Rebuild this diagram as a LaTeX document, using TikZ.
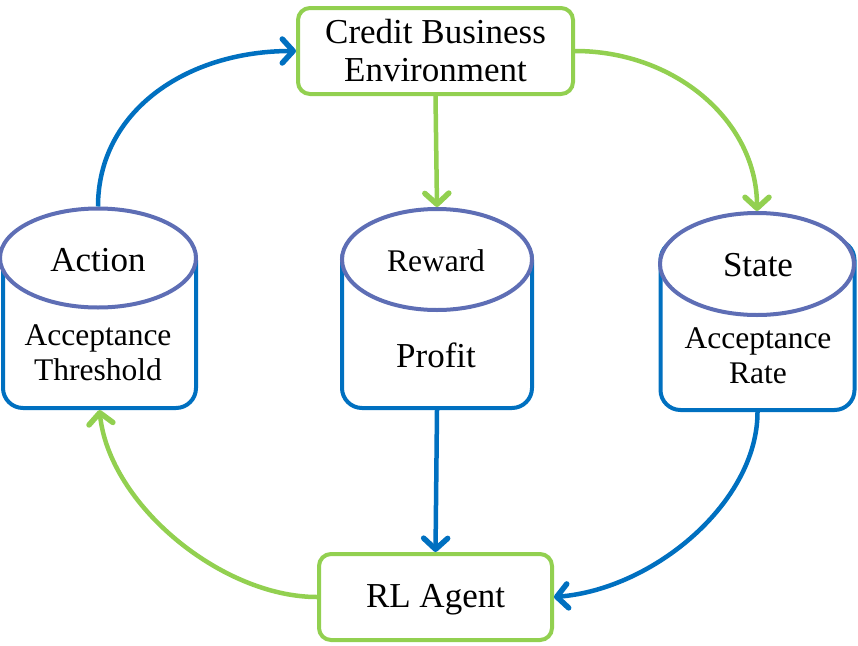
\documentclass[tikz,border=0pt]{standalone}
\usepackage{fontspec}
\setmainfont{Liberation Serif}
\usetikzlibrary{arrows.meta,shapes.geometric}
\definecolor{grn}{HTML}{92D050}
\definecolor{blu}{HTML}{0070C0}
\definecolor{ell}{HTML}{5E6EB5}
\begin{document}
\begin{tikzpicture}[x=1pt,y=-1pt,
  bigtext/.style={font=\fontsize{35}{38}\selectfont},
  smalltext/.style={font=\fontsize{31.5}{35}\selectfont},
  gbox/.style={draw=grn, line width=4pt, rounded corners=12pt, fill=white, align=center, bigtext, inner sep=0pt},
  cylbody/.style={draw=blu, line width=4pt, rounded corners=20pt, fill=white, inner sep=0pt},
  cyltop/.style={ellipse, draw=ell, line width=4pt, fill=white, inner sep=0pt},
  lbl/.style={align=center, inner sep=0pt},
  tip/.style={-{Straight Barb[length=11pt,width=24pt,line width=5.5pt,round]}},
  garr/.style={draw=grn, line width=4.5pt, tip},
  barr/.style={draw=blu, line width=4.5pt, tip}]
\useasboundingbox (0,0) rectangle (858,645);
% boxes
\node[gbox, minimum width=275pt, minimum height=86pt] (env) at (435.5,51) {Credit Business\\Environment};
\node[gbox, minimum width=233pt, minimum height=86pt] (agent) at (435.5,597) {};
\node[lbl, bigtext] (agentl) at (435.5,600) {RL Agent};
% action cylinder
\node[cylbody, minimum width=193pt, minimum height=168pt] (actb) at (99.5,324) {};
\node[cyltop, minimum width=196pt, minimum height=99pt] (act) at (98,258) {};
\node[lbl, bigtext] (actl) at (98,260) {Action};
\node[lbl, smalltext] (actt) at (98,353) {Acceptance\\Threshold};
% reward cylinder
\node[cylbody, minimum width=190pt, minimum height=168pt] (rewb) at (437,324) {};
\node[cyltop, minimum width=190pt, minimum height=101pt] (rew) at (437,259.5) {};
\node[lbl, smalltext] (rewl) at (436,261) {Reward};
\node[lbl, bigtext] (rewt) at (436,355) {Profit};
% state cylinder
\node[cylbody, minimum width=194pt, minimum height=170pt] (stb) at (757.5,325) {};
\node[cyltop, minimum width=194pt, minimum height=102pt] (st) at (757,264) {};
\node[lbl, bigtext] (stl) at (758,265) {State};
\node[lbl, smalltext] (stt) at (758,356) {Acceptance\\Rate};
% connectors
\draw[barr] (act.north) .. controls +(0,-95) and +(-110,0) .. (env.west);
\draw[garr] (env.east) .. controls +(100,0) and +(0,-90) .. (st.north);
\draw[garr] (env.south) -- (rew.north);
\draw[barr] (rewb.south) -- (agent.north);
\draw[barr] (stb.south) .. controls +(0,90) and +(100,-8) .. (agent.east);
\draw[garr] (agent.west) .. controls +(-95,0) and +(10,95) .. (actb.south);
\end{tikzpicture}
\end{document}
